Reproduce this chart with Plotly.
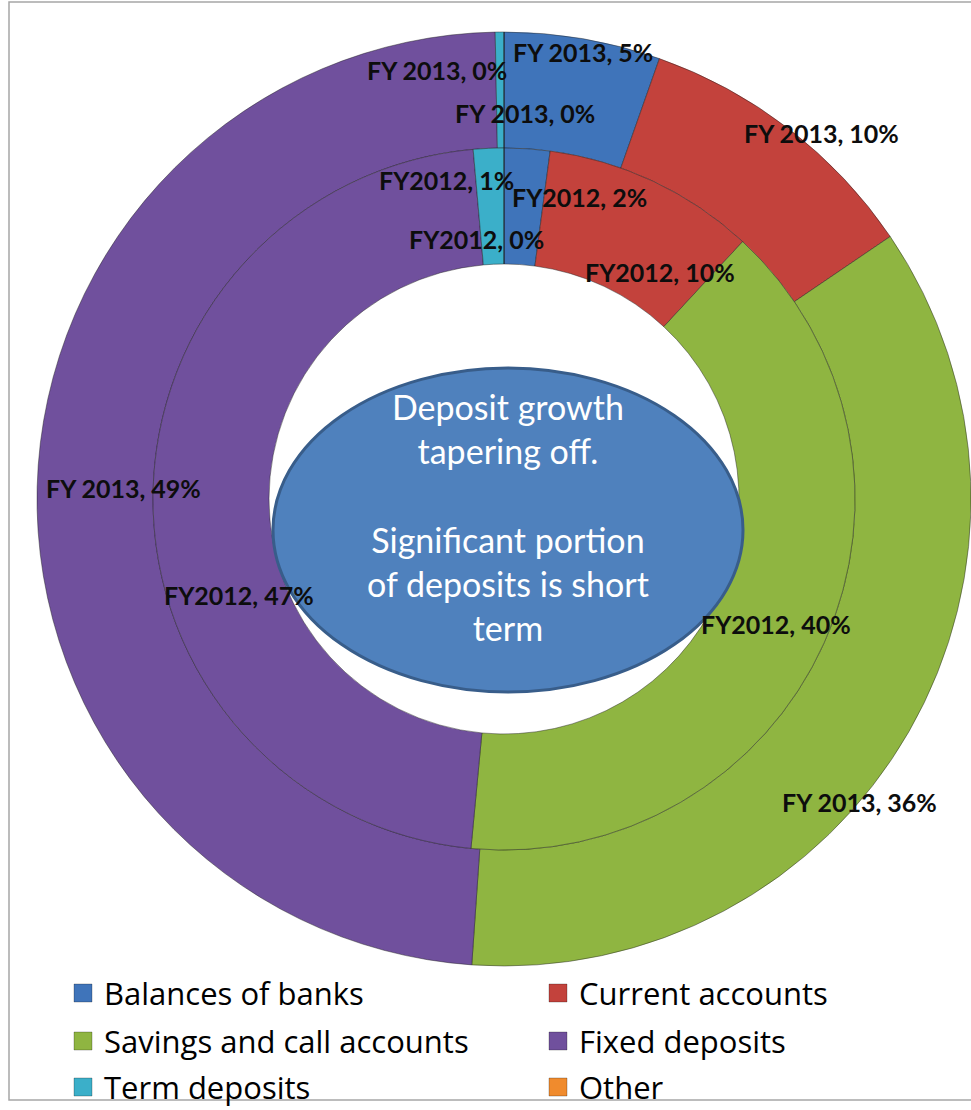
import plotly.graph_objects as go

# Deposit mix by category, share of total (%)
categories = ["Balances of banks", "Current accounts", "Savings and call accounts",
              "Fixed deposits", "Term deposits", "Other"]
fy2013 = [5.4, 10.1, 35.6, 48.6, 0.3, 0.0]
fy2012 = [2.1, 9.8, 39.6, 47.1, 1.4, 0.0]
ring_names = ["FY 2013", "FY2012"]

colors = ["#3F74BA", "#C3423C", "#8FB541", "#70509D", "#3BAFC9", "#F08B2D"]

W, H = 971, 1110


def px(x, y):
    """Pixel position (from top-left) to paper coordinates."""
    return x / W, 1 - y / H


# Ring geometry in pixels
cx, cy = 504, 499
r_outer, r_mid, r_hole = 467, 351, 235


def domain(r):
    x0, y0 = px(cx - r, cy + r)
    x1, y1 = px(cx + r, cy - r)
    return dict(x=[max(0, x0), min(1, x1)], y=[y0, y1])


slice_line = dict(color="rgba(30,30,30,0.45)", width=1)

fig = go.Figure()
fig.add_trace(go.Pie(
    labels=categories, values=fy2013, name=ring_names[0],
    sort=False, direction="clockwise", rotation=0,
    hole=r_mid / r_outer, domain=domain(r_outer),
    marker=dict(colors=colors, line=slice_line),
    textinfo="none", hoverinfo="label+percent+name", showlegend=False,
))
fig.add_trace(go.Pie(
    labels=categories, values=fy2012, name=ring_names[1],
    sort=False, direction="clockwise", rotation=0,
    hole=r_hole / r_mid, domain=domain(r_mid),
    marker=dict(colors=colors, line=slice_line),
    textinfo="none", hoverinfo="label+percent+name", showlegend=False,
))

shapes = []
annotations = []

# chart-area frame
bx0, by0 = px(9, 1100)
bx1, by1 = px(990, 2)
shapes.append(dict(type="rect", xref="paper", yref="paper", layer="below",
                   x0=bx0, y0=by0, x1=bx1, y1=by1,
                   line=dict(color="#A6A6A6", width=1.5), fillcolor="rgba(0,0,0,0)"))

# callout ellipse in the hole
ex0, ey0 = px(273, 692)
ex1, ey1 = px(743, 368)
shapes.append(dict(type="circle", xref="paper", yref="paper",
                   x0=ex0, y0=ey0, x1=ex1, y1=ey1,
                   fillcolor="#4F81BD", line=dict(color="#385D8A", width=3)))
tx, ty = px(508, 517)
annotations.append(dict(
    x=tx, y=ty, xref="paper", yref="paper", xanchor="center", yanchor="middle",
    showarrow=False, align="center",
    text="Deposit growth<br>tapering off.<br><br>Significant portion<br>of deposits is short<br>term",
    font=dict(family="Lato", size=34, color="white"),
))

# data label anchors (pixels) for each ring, in category order
label_pos = {
    0: [(583, 52), (821, 133), (859, 802), (123, 488), (437, 70), (525, 113)],
    1: [(579, 197), (660, 272), (776, 624), (239, 595), (446, 180), (476, 239)],
}
for ring, vals in enumerate([fy2013, fy2012]):
    for i, v in enumerate(vals):
        lx, ly = px(*label_pos[ring][i])
        annotations.append(dict(
            x=lx, y=ly, xref="paper", yref="paper", xanchor="center", yanchor="middle",
            showarrow=False, text=f"{ring_names[ring]}, {round(v)}%",
            font=dict(family="Lato", size=25, color="#0D0D0D", weight="bold"),
        ))

# legend: two columns, three rows
col_x = [74, 549]
row_y = [993, 1041, 1087]
for i, name in enumerate(categories):
    mx = col_x[i % 2]
    my = row_y[i // 2]
    sx0, sy0 = px(mx, my + 9)
    sx1, sy1 = px(mx + 18, my - 9)
    shapes.append(dict(type="rect", xref="paper", yref="paper",
                       x0=sx0, y0=sy0, x1=sx1, y1=sy1,
                       fillcolor=colors[i], line=dict(color="rgba(0,0,0,0.25)", width=1)))
    ax, ay = px(mx + 28, my)
    annotations.append(dict(
        x=ax, y=ay, xref="paper", yref="paper", xanchor="left", yanchor="middle",
        showarrow=False, text=name,
        font=dict(family="Open Sans", size=31, color="#000000"),
    ))

fig.update_layout(
    width=W, height=H,
    margin=dict(l=0, r=0, t=0, b=0),
    paper_bgcolor="white", plot_bgcolor="white",
    showlegend=False,
    shapes=shapes, annotations=annotations,
)

fig.write_html("out.html")
